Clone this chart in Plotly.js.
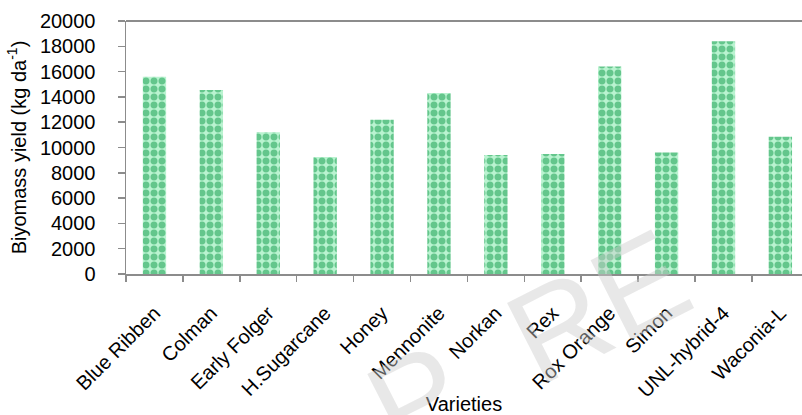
<!DOCTYPE html>
<html>
<head>
<meta charset="utf-8">
<script src="https://cdn.plot.ly/plotly-3.0.1.min.js"></script>
<style>
  html, body { margin: 0; padding: 0; background: #ffffff; }
  #chart { width: 802px; height: 415px; }
</style>
</head>
<body>
<div id="chart"></div>
<script>
const varieties = ["Blue Ribben", "Colman", "Early Folger", "H.Sugarcane", "Honey", "Mennonite",
                   "Norkan", "Rex", "Rox Orange", "Simon", "UNL-hybrid-4", "Waconia-L"];
const biomassYield = [15600, 14550, 11200, 9250, 12200, 14300, 9400, 9480, 16400, 9600, 18400, 10850];
const yTickValues = [0, 2000, 4000, 6000, 8000, 10000, 12000, 14000, 16000, 18000, 20000];

const FONT = "Liberation Sans, Arial, sans-serif";

const trace = {
  type: "bar",
  x: varieties,
  y: biomassYield,
  width: 0.41,
  marker: {
    color: "#b9f3d0",
    line: { width: 0 },
    pattern: {
      shape: ".",
      fgcolor: "#0f9a48",
      bgcolor: "#b9f3d0",
      size: 8,
      solidity: 0.6,
      fillmode: "overlay"
    }
  },
  hoverinfo: "x+y"
};

const layout = {
  width: 802,
  height: 415,
  margin: { l: 126, r: 0, t: 21, b: 141, pad: 0 },
  paper_bgcolor: "#ffffff",
  plot_bgcolor: "#ffffff",
  showlegend: false,
  font: { family: FONT, size: 20, color: "#000000" },
  xaxis: {
    type: "category",
    range: [-0.5, 11.38],
    tickson: "boundaries",
    ticks: "outside",
    ticklen: 6,
    tickwidth: 1.5,
    tickcolor: "#8c8c8c",
    showline: true,
    linecolor: "#8c8c8c",
    linewidth: 1.5,
    showgrid: false,
    tickangle: -45,
    ticklabelstandoff: 18,
    tickfont: { family: FONT, size: 20, color: "#000000" },
    title: { text: "Varieties", font: { family: FONT, size: 20, color: "#000000" }, standoff: 3 },
    automargin: false,
    fixedrange: true
  },
  yaxis: {
    range: [0, 20000],
    tickvals: yTickValues,
    ticktext: yTickValues.map(String),
    ticks: "outside",
    ticklen: 7,
    tickwidth: 1.5,
    tickcolor: "#8c8c8c",
    showline: true,
    linecolor: "#8c8c8c",
    linewidth: 1.5,
    showgrid: false,
    zeroline: false,
    ticklabelstandoff: 18,
    tickfont: { family: FONT, size: 20, color: "#000000" },
    title: { text: "Biyomass yield (kg da<sup>-1</sup>)", font: { family: FONT, size: 20, color: "#000000" }, standoff: 8 },
    automargin: false,
    fixedrange: true
  },
  shapes: [
    { type: "line", xref: "paper", yref: "paper", x0: 0, x1: 1, y0: 1, y1: 1,
      line: { color: "#666666", width: 1.5 } }
  ],
  annotations: [
    { text: "P  RE", xref: "paper", yref: "paper", x: 0.595, y: -0.27,
      xanchor: "center", yanchor: "middle", showarrow: false,
      textangle: -27, font: { family: FONT, size: 130, color: "rgba(205,205,205,0.45)" } }
  ]
};

Plotly.newPlot("chart", [trace], layout, { displayModeBar: false, staticPlot: true });
</script>
</body>
</html>
